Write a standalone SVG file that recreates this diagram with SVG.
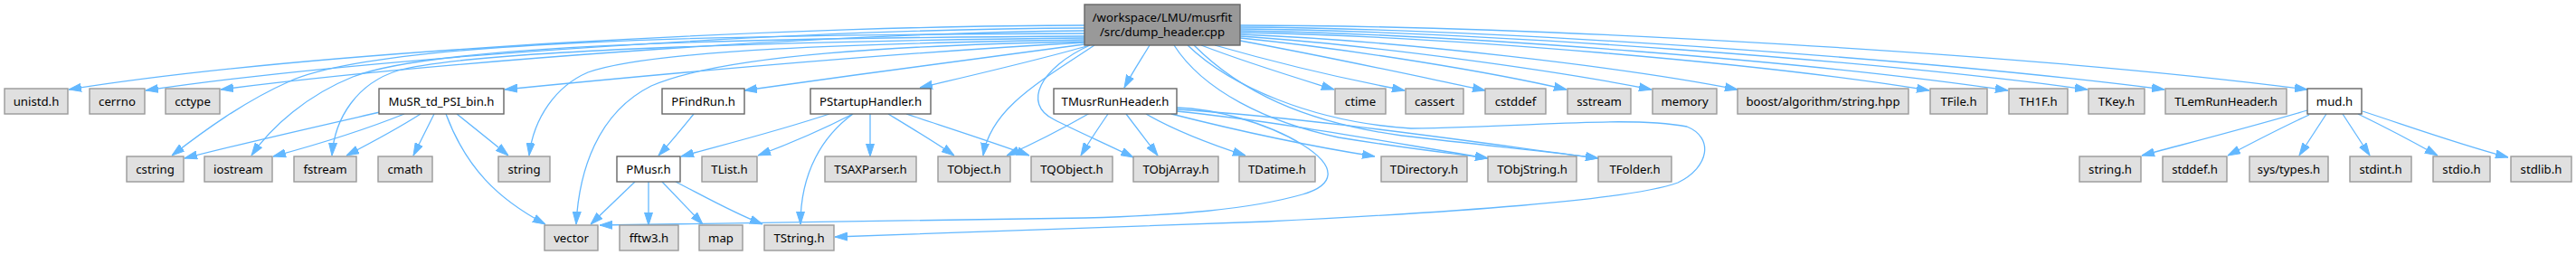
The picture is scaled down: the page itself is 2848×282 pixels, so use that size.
<svg xmlns="http://www.w3.org/2000/svg" width="2848" height="282" viewBox="0 0 2848 282">
<defs>
<style>
.ext{fill:#E0E0E0;stroke:#999999;stroke-width:1.4}
.int{fill:#FFFFFF;stroke:#666666;stroke-width:1.4}
.main{fill:#999999;stroke:#666666;stroke-width:1.4}
text{font-family:"Noto Sans","DejaVu Sans",sans-serif;font-size:13.2px;fill:#000;text-anchor:middle}
.e{fill:none;stroke:#63B8FF;stroke-width:1.3;marker-end:url(#arr)}
</style>
<marker id="arr" viewBox="0 0 14 10" refX="14" refY="5" markerWidth="14" markerHeight="10" markerUnits="userSpaceOnUse" orient="auto">
<path d="M0,0.5 L14,5 L0,9.5 z" fill="#63B8FF" stroke="#63B8FF" stroke-width="1"/>
</marker>
</defs>
<rect width="2848" height="282" fill="#FFFFFF"/>
<g id="connectors">
<path class="e" d="M1199,28 C900,28 350,55 76,99"/>
<path class="e" d="M1199,31 C900,32 420,62 161,100"/>
<path class="e" d="M1199,34 C900,37 470,70 244,99"/>
<path class="e" d="M1199,37 C800,38 420,45 320,90 C270,112 225,145 190,172"/>
<path class="e" d="M1199,40 C800,42 480,50 390,85 C340,105 300,140 278,172"/>
<path class="e" d="M1199,42 C900,45 520,55 440,78 C395,92 370,130 367,172"/>
<path class="e" d="M1199,47 C1000,58 800,75 558,99"/>
<path class="e" d="M1199,44 C950,48 720,55 650,80 C615,95 590,130 585,172"/>
<path class="e" d="M1199,46 C1000,50 800,60 720,95 C660,125 640,190 637,248"/>
<path class="e" d="M1199,49 C1100,62 950,82 823,100"/>
<path class="e" d="M1205,50 C1150,66 1080,82 1017,97"/>
<path class="e" d="M1210,50 C1150,90 1095,120 1087,172"/>
<path class="e" d="M1205,50 C1150,75 1130,115 1165,132 C1190,145 1225,160 1253,174"/>
<path class="e" d="M1271,50 C1262,65 1252,80 1243,97"/>
<path class="e" d="M1298,50 C1330,100 1400,135 1480,152 C1560,165 1610,170 1645,175"/>
<path class="e" d="M1320,50 C1370,100 1440,135 1550,150 C1650,162 1720,168 1767,175"/>
<path class="e" d="M1313,50 C1360,95 1450,135 1560,142 C1700,140 1800,128 1865,140 C1895,152 1890,185 1855,202 C1800,222 1600,235 1400,245 C1200,252 1050,258 923,262"/>
<path class="e" d="M1328,50 C1380,70 1430,85 1475,99"/>
<path class="e" d="M1343,50 C1420,72 1490,88 1553,100"/>
<path class="e" d="M1371,45 C1480,65 1570,85 1642,100"/>
<path class="e" d="M1371,42 C1500,55 1650,80 1732,99"/>
<path class="e" d="M1371,40 C1520,50 1720,78 1826,99"/>
<path class="e" d="M1371,38 C1550,45 1800,75 1921,99"/>
<path class="e" d="M1371,36 C1600,40 1950,70 2133,100"/>
<path class="e" d="M1371,34 C1620,38 2000,68 2220,100"/>
<path class="e" d="M1371,32 C1650,35 2080,68 2308,99"/>
<path class="e" d="M1371,30 C1680,32 2150,68 2393,99"/>
<path class="e" d="M1371,28 C1700,28 2250,60 2551,99"/>
<path class="e" d="M420,124 C350,140 270,158 204,175"/>
<path class="e" d="M447,126 C400,145 350,160 302,173"/>
<path class="e" d="M465,126 C440,142 410,158 383,172"/>
<path class="e" d="M480,126 C472,142 464,158 457,172"/>
<path class="e" d="M505,126 C525,142 545,158 562,172"/>
<path class="e" d="M493,126 C515,185 550,220 603,248"/>
<path class="e" d="M767,126 C754,142 741,158 728,172"/>
<path class="e" d="M917,126 C860,145 800,160 753,173"/>
<path class="e" d="M943,126 C910,143 870,160 838,172"/>
<path class="e" d="M943,126 C910,150 885,190 885,248"/>
<path class="e" d="M962,126 L962,173"/>
<path class="e" d="M982,126 C1010,143 1035,158 1055,172"/>
<path class="e" d="M1002,126 C1050,142 1100,158 1138,172"/>
<path class="e" d="M702,201 L653,248"/>
<path class="e" d="M717,201 L717,249"/>
<path class="e" d="M732,201 L777,248"/>
<path class="e" d="M747,201 C780,218 810,235 843,248"/>
<path class="e" d="M1205,125 C1170,145 1140,160 1113,172"/>
<path class="e" d="M1225,126 C1212,145 1202,160 1195,172"/>
<path class="e" d="M1245,126 L1280,172"/>
<path class="e" d="M1267,126 C1300,145 1340,160 1377,172"/>
<path class="e" d="M1295,126 C1370,145 1450,162 1520,173"/>
<path class="e" d="M1301,123 C1420,135 1550,160 1645,175"/>
<path class="e" d="M1301,121 C1450,130 1650,160 1767,175"/>
<path class="e" d="M1301,119 C1340,120 1400,135 1440,160 C1480,185 1475,205 1440,215 C1380,232 1300,238 1200,241 C1000,245 800,247 663,249"/>
<path class="e" d="M2551,122 C2490,140 2420,158 2368,172"/>
<path class="e" d="M2553,127 C2520,142 2490,158 2463,172"/>
<path class="e" d="M2572,126 L2542,172"/>
<path class="e" d="M2590,126 L2620,172"/>
<path class="e" d="M2607,126 C2640,142 2670,158 2695,172"/>
<path class="e" d="M2612,123 C2670,142 2720,160 2773,174"/>
</g>
<g id="node_main"><rect class="main" x="1199" y="5" width="172" height="45"/><text x="1285" y="24">/workspace/LMU/musrfit</text><text x="1285" y="40">/src/dump_header.cpp</text></g>
<g id="node_unistd"><rect class="ext" x="5" y="98" width="70" height="28"/><text x="40" y="116.6">unistd.h</text></g>
<g id="node_cerrno"><rect class="ext" x="99" y="98" width="61" height="28"/><text x="129.5" y="116.6">cerrno</text></g>
<g id="node_cctype"><rect class="ext" x="183" y="98" width="60" height="28"/><text x="213" y="116.6">cctype</text></g>
<g id="node_musr"><rect class="int" x="419" y="98" width="138" height="28"/><text x="488" y="116.6">MuSR_td_PSI_bin.h</text></g>
<g id="node_pfindrun"><rect class="int" x="732" y="98" width="91" height="28"/><text x="777.5" y="116.6">PFindRun.h</text></g>
<g id="node_pstartup"><rect class="int" x="896" y="98" width="133" height="28"/><text x="962.5" y="116.6">PStartupHandler.h</text></g>
<g id="node_tmusr"><rect class="int" x="1165" y="98" width="136" height="28"/><text x="1233" y="116.6">TMusrRunHeader.h</text></g>
<g id="node_ctime"><rect class="ext" x="1476" y="98" width="56" height="28"/><text x="1504" y="116.6">ctime</text></g>
<g id="node_cassert"><rect class="ext" x="1554" y="98" width="64" height="28"/><text x="1586" y="116.6">cassert</text></g>
<g id="node_cstddef"><rect class="ext" x="1642" y="98" width="67" height="28"/><text x="1675.5" y="116.6">cstddef</text></g>
<g id="node_sstream"><rect class="ext" x="1733" y="98" width="70" height="28"/><text x="1768" y="116.6">sstream</text></g>
<g id="node_memory"><rect class="ext" x="1827" y="98" width="71" height="28"/><text x="1862.5" y="116.6">memory</text></g>
<g id="node_boost"><rect class="ext" x="1921" y="98" width="189" height="28"/><text x="2015.5" y="116.6">boost/algorithm/string.hpp</text></g>
<g id="node_tfile"><rect class="ext" x="2134" y="98" width="63" height="28"/><text x="2165.5" y="116.6">TFile.h</text></g>
<g id="node_th1f"><rect class="ext" x="2221" y="98" width="65" height="28"/><text x="2253.5" y="116.6">TH1F.h</text></g>
<g id="node_tkey"><rect class="ext" x="2309" y="98" width="62" height="28"/><text x="2340" y="116.6">TKey.h</text></g>
<g id="node_tlem"><rect class="ext" x="2394" y="98" width="134" height="28"/><text x="2461" y="116.6">TLemRunHeader.h</text></g>
<g id="node_mud"><rect class="int" x="2551" y="98" width="60" height="28"/><text x="2581" y="116.6">mud.h</text></g>
<g id="node_cstring"><rect class="ext" x="140" y="173" width="63" height="28"/><text x="171.5" y="191.6">cstring</text></g>
<g id="node_iostream"><rect class="ext" x="226" y="173" width="75" height="28"/><text x="263.5" y="191.6">iostream</text></g>
<g id="node_fstream"><rect class="ext" x="325" y="173" width="69" height="28"/><text x="359.5" y="191.6">fstream</text></g>
<g id="node_cmath"><rect class="ext" x="418" y="173" width="60" height="28"/><text x="448" y="191.6">cmath</text></g>
<g id="node_string"><rect class="ext" x="551" y="173" width="57" height="28"/><text x="579.5" y="191.6">string</text></g>
<g id="node_pmusr"><rect class="int" x="682" y="173" width="70" height="28"/><text x="717" y="191.6">PMusr.h</text></g>
<g id="node_tlist"><rect class="ext" x="776" y="173" width="61" height="28"/><text x="806.5" y="191.6">TList.h</text></g>
<g id="node_tsax"><rect class="ext" x="912" y="173" width="101" height="28"/><text x="962.5" y="191.6">TSAXParser.h</text></g>
<g id="node_tobject"><rect class="ext" x="1037" y="173" width="80" height="28"/><text x="1077" y="191.6">TObject.h</text></g>
<g id="node_tqobject"><rect class="ext" x="1140" y="173" width="90" height="28"/><text x="1185" y="191.6">TQObject.h</text></g>
<g id="node_tobjarray"><rect class="ext" x="1253" y="173" width="94" height="28"/><text x="1300" y="191.6">TObjArray.h</text></g>
<g id="node_tdatime"><rect class="ext" x="1370" y="173" width="84" height="28"/><text x="1412" y="191.6">TDatime.h</text></g>
<g id="node_tdirectory"><rect class="ext" x="1527" y="173" width="95" height="28"/><text x="1574.5" y="191.6">TDirectory.h</text></g>
<g id="node_tobjstring"><rect class="ext" x="1645" y="173" width="98" height="28"/><text x="1694" y="191.6">TObjString.h</text></g>
<g id="node_tfolder"><rect class="ext" x="1767" y="173" width="81" height="28"/><text x="1807.5" y="191.6">TFolder.h</text></g>
<g id="node_stringh"><rect class="ext" x="2299" y="173" width="68" height="28"/><text x="2333" y="191.6">string.h</text></g>
<g id="node_stddef"><rect class="ext" x="2391" y="173" width="71" height="28"/><text x="2426.5" y="191.6">stddef.h</text></g>
<g id="node_systypes"><rect class="ext" x="2487" y="173" width="87" height="28"/><text x="2530.5" y="191.6">sys/types.h</text></g>
<g id="node_stdint"><rect class="ext" x="2598" y="173" width="68" height="28"/><text x="2632" y="191.6">stdint.h</text></g>
<g id="node_stdio"><rect class="ext" x="2690" y="173" width="63" height="28"/><text x="2721.5" y="191.6">stdio.h</text></g>
<g id="node_stdlib"><rect class="ext" x="2776" y="173" width="67" height="28"/><text x="2809.5" y="191.6">stdlib.h</text></g>
<g id="node_vector"><rect class="ext" x="602" y="249" width="59" height="28"/><text x="631.5" y="267.6">vector</text></g>
<g id="node_fftw3"><rect class="ext" x="685" y="249" width="65" height="28"/><text x="717.5" y="267.6">fftw3.h</text></g>
<g id="node_map"><rect class="ext" x="773" y="249" width="48" height="28"/><text x="797" y="267.6">map</text></g>
<g id="node_tstring"><rect class="ext" x="845" y="249" width="77" height="28"/><text x="883.5" y="267.6">TString.h</text></g>
</svg>
